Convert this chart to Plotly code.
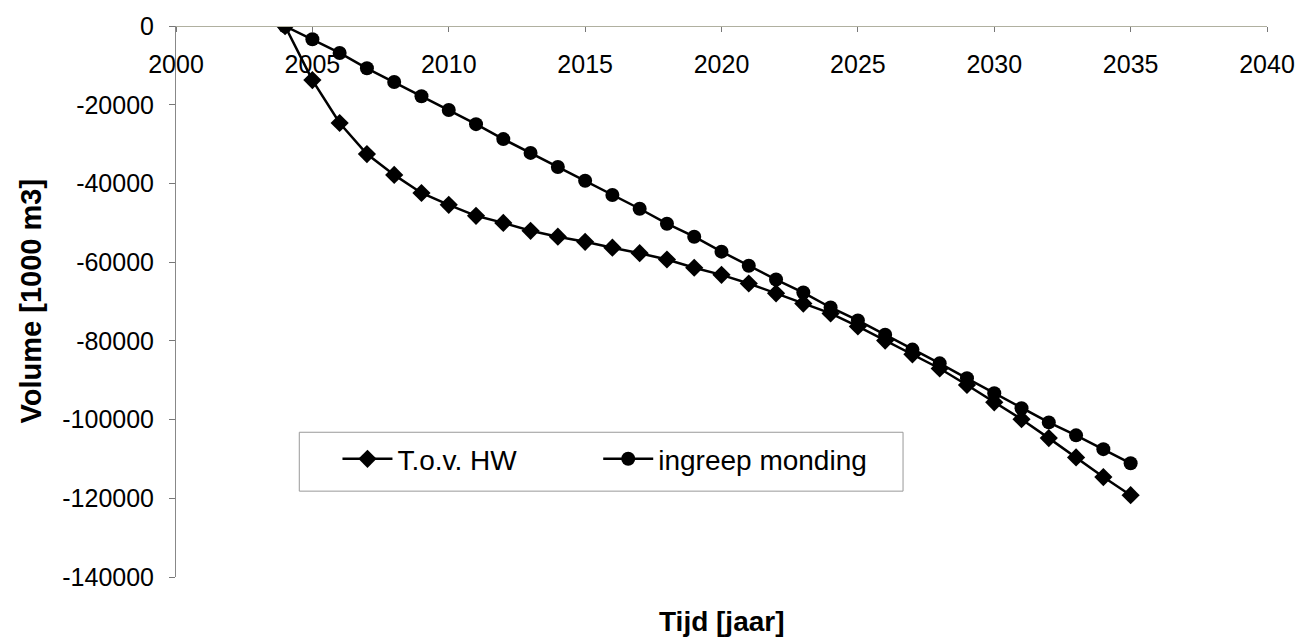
import plotly.graph_objects as go

# Years and cumulative volume change [1000 m3]
years = list(range(2004, 2036))

tov_hw = [
    0, -13700, -24600, -32500, -37800, -42400, -45400, -48200,
    -50000, -52000, -53500, -54800, -56300, -57700, -59300, -61400,
    -63200, -65400, -67900, -70500, -73000, -76300, -79900, -83400,
    -87000, -91200, -95600, -99900, -104700, -109600, -114600, -119200,
]

ingreep_monding = [
    0, -3300, -6800, -10700, -14200, -17800, -21300, -24900,
    -28700, -32200, -35800, -39300, -42900, -46400, -50200, -53500,
    -57300, -60900, -64400, -67700, -71500, -74800, -78400, -82200,
    -85700, -89500, -93300, -97100, -100700, -104000, -107500, -111100,
]

x_ticks = [2000, 2005, 2010, 2015, 2020, 2025, 2030, 2035, 2040]
y_ticks = [0, -20000, -40000, -60000, -80000, -100000, -120000, -140000]
y_labels = [str(v) for v in y_ticks]

FONT = "Liberation Sans, Arial, sans-serif"

fig = go.Figure()
fig.add_trace(go.Scatter(
    x=years, y=tov_hw, name="T.o.v. HW", mode="lines+markers",
    line=dict(color="black", width=2.5),
    marker=dict(symbol="diamond", size=14, color="black"),
    legend="legend",
))
fig.add_trace(go.Scatter(
    x=years, y=ingreep_monding, name="ingreep monding", mode="lines+markers",
    line=dict(color="black", width=2.5),
    marker=dict(symbol="circle", size=14, color="black"),
    legend="legend2",
))

# Legend frame drawn as a shape so both entries can sit indented inside it
fig.add_shape(
    type="rect", xref="paper", yref="paper",
    x0=0.113, x1=0.6664, y0=0.1558, y1=0.2627,
    line=dict(color="#999999", width=1), fillcolor="white", layer="below",
)

legend_style = dict(
    orientation="h", y=0.214, xanchor="left", yanchor="middle",
    bgcolor="rgba(0,0,0,0)", borderwidth=0,
    font=dict(family=FONT, size=28, color="black"), itemwidth=50,
)

fig.update_layout(
    width=1307, height=639,
    margin=dict(l=176, r=34, t=25, b=62),
    paper_bgcolor="white", plot_bgcolor="white",
    font=dict(family=FONT, size=25, color="black"),
    showlegend=True,
    legend=dict(x=0.148, **legend_style),
    legend2=dict(x=0.387, **legend_style),
    xaxis=dict(
        range=[2000, 2040], tickvals=x_ticks,
        anchor="free", position=1, side="bottom",
        ticks="outside", ticklen=5, tickcolor="#777777",
        ticklabelstandoff=11,
        showline=True, linecolor="#b0b0a0", linewidth=1,
        showgrid=False, zeroline=False,
        tickfont=dict(size=25, color="black"),
    ),
    yaxis=dict(
        range=[-140000, 50], tickvals=y_ticks, ticktext=y_labels,
        ticks="outside", ticklen=6, tickcolor="#777777",
        ticklabelstandoff=10,
        showline=True, linecolor="#888888", linewidth=1,
        showgrid=False, zeroline=False,
        tickfont=dict(size=25, color="black"),
    ),
    annotations=[
        dict(text="<b>Volume [1000 m3]</b>", xref="paper", yref="paper",
             x=-0.133, y=0.5, xanchor="center", yanchor="middle",
             textangle=-90, showarrow=False, font=dict(size=29)),
        dict(text="<b>Tijd [jaar]</b>", xref="paper", yref="paper",
             x=0.5, y=-0.0815, xanchor="center", yanchor="middle",
             showarrow=False, font=dict(size=28)),
    ],
)

fig.write_html("out.html")
